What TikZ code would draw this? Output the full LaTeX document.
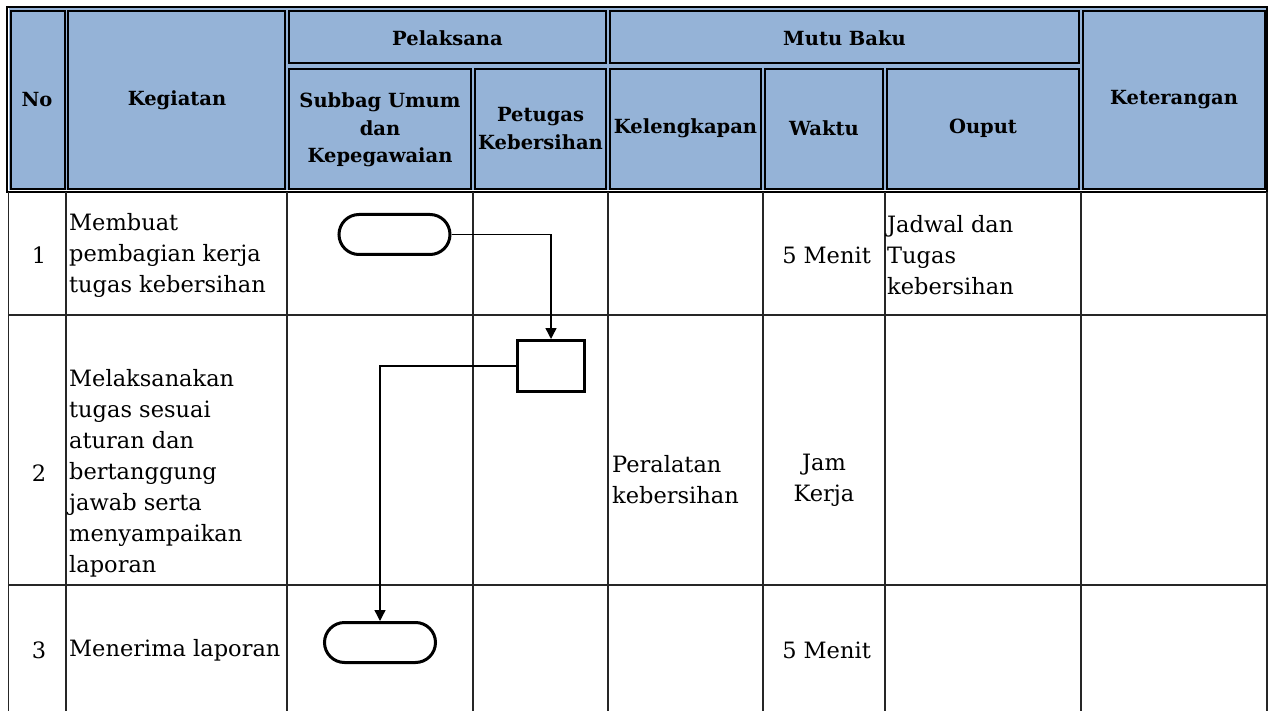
\documentclass[tikz,border=0pt]{standalone}
\usepackage{fontspec}
\setmainfont{DejaVu Serif}
\usetikzlibrary{arrows.meta}
\definecolor{hdr}{RGB}{149,179,215}
\begin{document}
\begin{tikzpicture}[x=1pt,y=-1pt,
  hcell/.style={draw=black, line width=2pt, fill=hdr},
  htext/.style={font=\fontsize{19.5}{27.5}\selectfont\bfseries, align=center, inner sep=0pt},
  btext/.style={font=\fontsize{22.5}{31}\selectfont, align=left, inner sep=0pt},
  ctext/.style={font=\fontsize{22.5}{31}\selectfont, align=center, inner sep=0pt},
  gridline/.style={line width=1.3pt, draw=black!85},
  term/.style={draw, line width=3pt, rounded corners=20pt, minimum width=111pt, minimum height=40pt, inner sep=0pt},
  proc/.style={draw, line width=3pt, minimum width=67pt, minimum height=51pt, inner sep=0pt},
  conn/.style={line width=1.4pt, -{Triangle[length=11pt,width=11pt]}}
]
\useasboundingbox (0,0) rectangle (1268,711);
\fill[white] (0,0) rectangle (1268,711);
% header frame
\draw[line width=2pt, fill=white] (6.8,6.8) rectangle (1267,192);
\fill[hdr] (8.5,8.5) rectangle (1266,190.5);
% header cells
\draw[hcell] (11,11) rectangle (64.9,189);
\draw[hcell] (68.3,11) rectangle (285.3,189);
\draw[hcell] (288.7,11) rectangle (606.3,63.5);
\draw[hcell] (609.7,11) rectangle (1079.3,63.5);
\draw[hcell] (1082.7,11) rectangle (1264.5,189);
\draw[hcell] (288.7,69.2) rectangle (471.3,189);
\draw[hcell] (474.7,69.2) rectangle (606.3,189);
\draw[hcell] (609.7,69.2) rectangle (761.3,189);
\draw[hcell] (764.7,69.2) rectangle (883.3,189);
\draw[hcell] (886.7,69.2) rectangle (1079.3,189);
% header texts
\node[htext] (hno) at (37,100) {No};
\node[htext] (hkeg) at (177,100) {Kegiatan};
\node[htext] (hpel) at (447.5,38) {Pelaksana};
\node[htext] (hmutu) at (844.5,38) {Mutu Baku};
\node[htext] (hket) at (1174,100) {Keterangan};
\node[htext] (hsub) at (380,130) {Subbag Umum\\dan\\Kepegawaian};
\node[htext] (hpet) at (540.5,128.5) {Petugas\\Kebersihan};
\node[htext] (hkel) at (685.5,128) {Kelengkapan};
\node[htext] (hwak) at (824,128) {Waktu};
\node[htext] (hout) at (983,128) {Ouput};
% body grid
\foreach \x in {8.5,66,287,473,608,763,885,1081,1267}
  \draw[gridline] (\x,192) -- (\x,711);
\foreach \y in {315,585}
  \draw[gridline] (8.5,\y) -- (1267,\y);
% row 1
\node[ctext] (n1) at (39,255) {1};
\node[btext, anchor=west] (k1) at (69,255) {Membuat\\pembagian kerja\\tugas kebersihan};
\node[ctext, anchor=east] (w1) at (871,255) {5 Menit};
\node[btext, anchor=west] (o1) at (887,255) {Jadwal dan\\Tugas\\kebersihan};
% row 2
\node[ctext] (n2) at (39,473) {2};
\node[btext, anchor=west] (k2) at (69,473) {Melaksanakan\\tugas sesuai\\aturan dan\\bertanggung\\jawab serta\\menyampaikan\\laporan};
\node[btext, anchor=west] (kl2) at (612,480) {Peralatan\\kebersihan};
\node[ctext] (w2) at (824,480) {Jam\\Kerja};
% row 3
\node[ctext] (n3) at (39,650) {3};
\node[btext, anchor=west] (k3) at (69,650) {Menerima laporan};
\node[ctext, anchor=east] (w3) at (871,650) {5 Menit};
% flow shapes
\node[term] (t1) at (394.5,234.5) {};
\node[proc] (p2) at (551,366) {};
\node[term] (t3) at (380,642.5) {};
\draw[conn] (t1.east) -| (p2.north);
\draw[conn] (p2.west) -| (t3.north);
\end{tikzpicture}
\end{document}
